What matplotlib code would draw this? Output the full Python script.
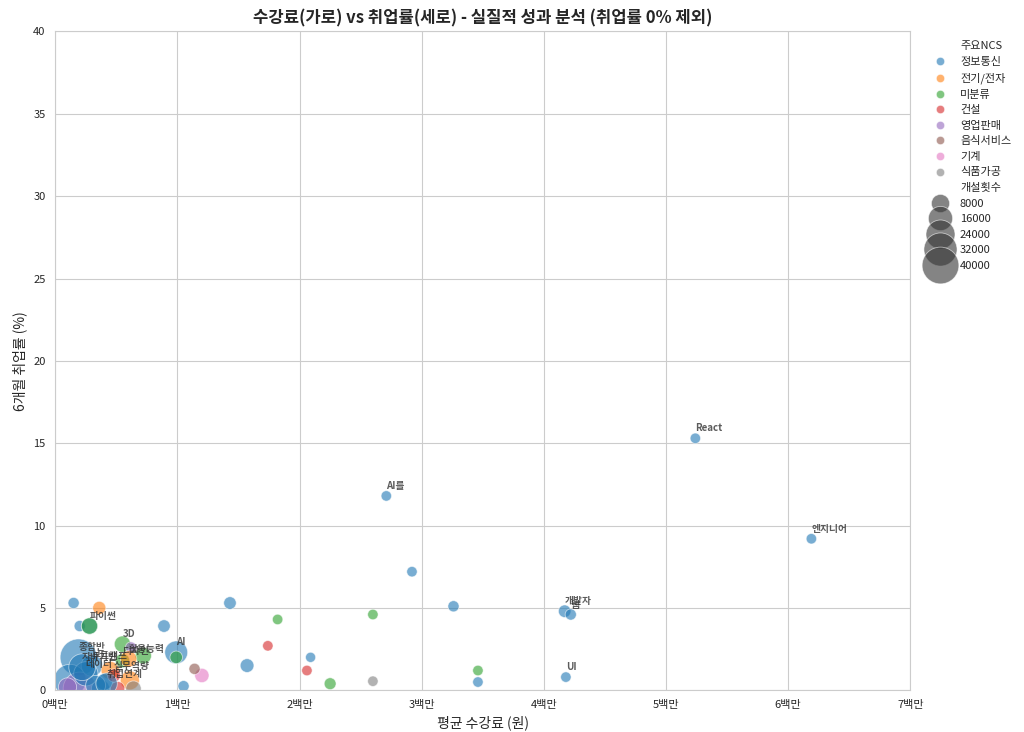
import matplotlib
matplotlib.use("Agg")
import matplotlib.pyplot as plt
import seaborn as sns
import pandas as pd
from matplotlib.ticker import FuncFormatter

# 데이터
cost = [0.15, 0.36, 0.20, 0.28, 0.28, 0.89, 1.43, 1.82, 2.60, 2.92, 2.71, 3.26, 4.17, 4.22,
        5.24, 6.19, 4.18, 3.46, 3.46, 2.60, 2.25, 2.09, 2.06, 1.74, 1.57, 1.20, 1.14, 1.05,
        0.99, 0.99, 0.55, 0.62, 0.72, 0.19, 0.12, 0.20, 0.10, 0.61, 0.64, 0.51, 0.37,
        0.30, 0.45, 0.25, 0.40, 0.55, 0.33, 0.48, 0.22, 0.60, 0.42]
rate = [5.3, 5.0, 3.9, 3.9, 3.9, 3.9, 5.3, 4.3, 4.6, 7.2, 11.8, 5.1, 4.8, 4.6,
        15.3, 9.2, 0.8, 0.5, 1.2, 0.55, 0.4, 2.0, 1.2, 2.7, 1.5, 0.9, 1.3, 0.25,
        2.3, 2.0, 2.8, 2.6, 2.1, 2.0, 0.6, 0.1, 0.2, 0.6, 0.1, 0.1, 0.1,
        1.5, 1.2, 1.0, 0.5, 1.8, 0.3, 0.9, 1.4, 1.9, 0.4]
ncs = ["정보통신", "전기/전자", "정보통신", "정보통신", "미분류", "정보통신", "정보통신", "미분류",
       "미분류", "정보통신", "정보통신", "정보통신", "정보통신", "정보통신", "정보통신", "정보통신",
       "정보통신", "정보통신", "미분류", "식품가공", "미분류", "정보통신", "건설", "건설", "정보통신",
       "기계", "음식서비스", "정보통신", "정보통신", "미분류", "미분류", "영업판매", "미분류",
       "정보통신", "정보통신", "영업판매", "영업판매", "전기/전자", "식품가공", "건설", "정보통신",
       "정보통신", "전기/전자", "정보통신", "정보통신", "미분류", "정보통신", "건설", "정보통신",
       "전기/전자", "정보통신"]
count = [1500, 3000, 1500, 6000, 6000, 2500, 2500, 1000, 1000, 1000, 1000, 1500, 2500, 1500,
         1000, 1000, 1000, 1000, 1000, 1000, 2000, 800, 1000, 1000, 3500, 4000, 1500, 1500,
         14000, 2500, 6000, 1500, 6000, 40000, 30000, 32000, 8000, 9000, 5000, 4000, 8000,
         12000, 8000, 16000, 6000, 4000, 10000, 3000, 20000, 6000, 12000]
labels = {10: "AI를", 14: "React", 15: "엔지니어", 12: "개발자", 13: "웹", 16: "UI",
          28: "AI", 30: "3D", 4: "파이썬", 33: "종합반", 41: "부트캠프", 45: "디자인",
          43: "데이터", 47: "실무역량", 48: "자바기반", 49: "활용능력", 50: "취업연계"}
hue_order = ["정보통신", "전기/전자", "미분류", "건설", "영업판매", "음식서비스", "기계", "식품가공"]

df = pd.DataFrame({"cost": [c * 1e6 for c in cost], "rate": rate, "ncs": ncs, "count": count})

sns.set_style("whitegrid")
plt.rcParams['font.family'] = ['Noto Sans CJK KR', 'DejaVu Sans']

fig, ax = plt.subplots(figsize=(10.24, 7.32), dpi=100)
sns.scatterplot(data=df, x="cost", y="rate", hue="ncs", hue_order=hue_order,
                size="count", sizes=(40, 700), size_norm=(0, 40000), alpha=0.6, ax=ax)

for i, txt in labels.items():
    ax.annotate(txt, (df.cost[i], rate[i]), xytext=(0, 5), textcoords="offset points",
                fontsize=7, fontweight="bold", color="#333333", alpha=0.8, ha="left")

ax.set_xlim(0, 7e6)
ax.set_ylim(0, 40)
ax.xaxis.set_major_formatter(FuncFormatter(lambda v, p: f"{int(v / 1e6)}백만"))
ax.set_xlabel("평균 수강료 (원)")
ax.set_ylabel("6개월 취업률 (%)")
ax.set_title("수강료(가로) vs 취업률(세로) - 실질적 성과 분석 (취업률 0% 제외)",
             fontsize=12, fontweight="bold")
ax.tick_params(labelsize=8)

handles, lbls = ax.get_legend_handles_labels()
lbls = ["주요NCS" if l == "ncs" else "개설횟수" if l == "count" else l for l in lbls]
ax.legend(handles, lbls, bbox_to_anchor=(1.01, 1), loc="upper left", frameon=False, fontsize=8)

plt.subplots_adjust(left=0.054, right=0.889, top=0.957, bottom=0.057)
plt.savefig("out.png")
